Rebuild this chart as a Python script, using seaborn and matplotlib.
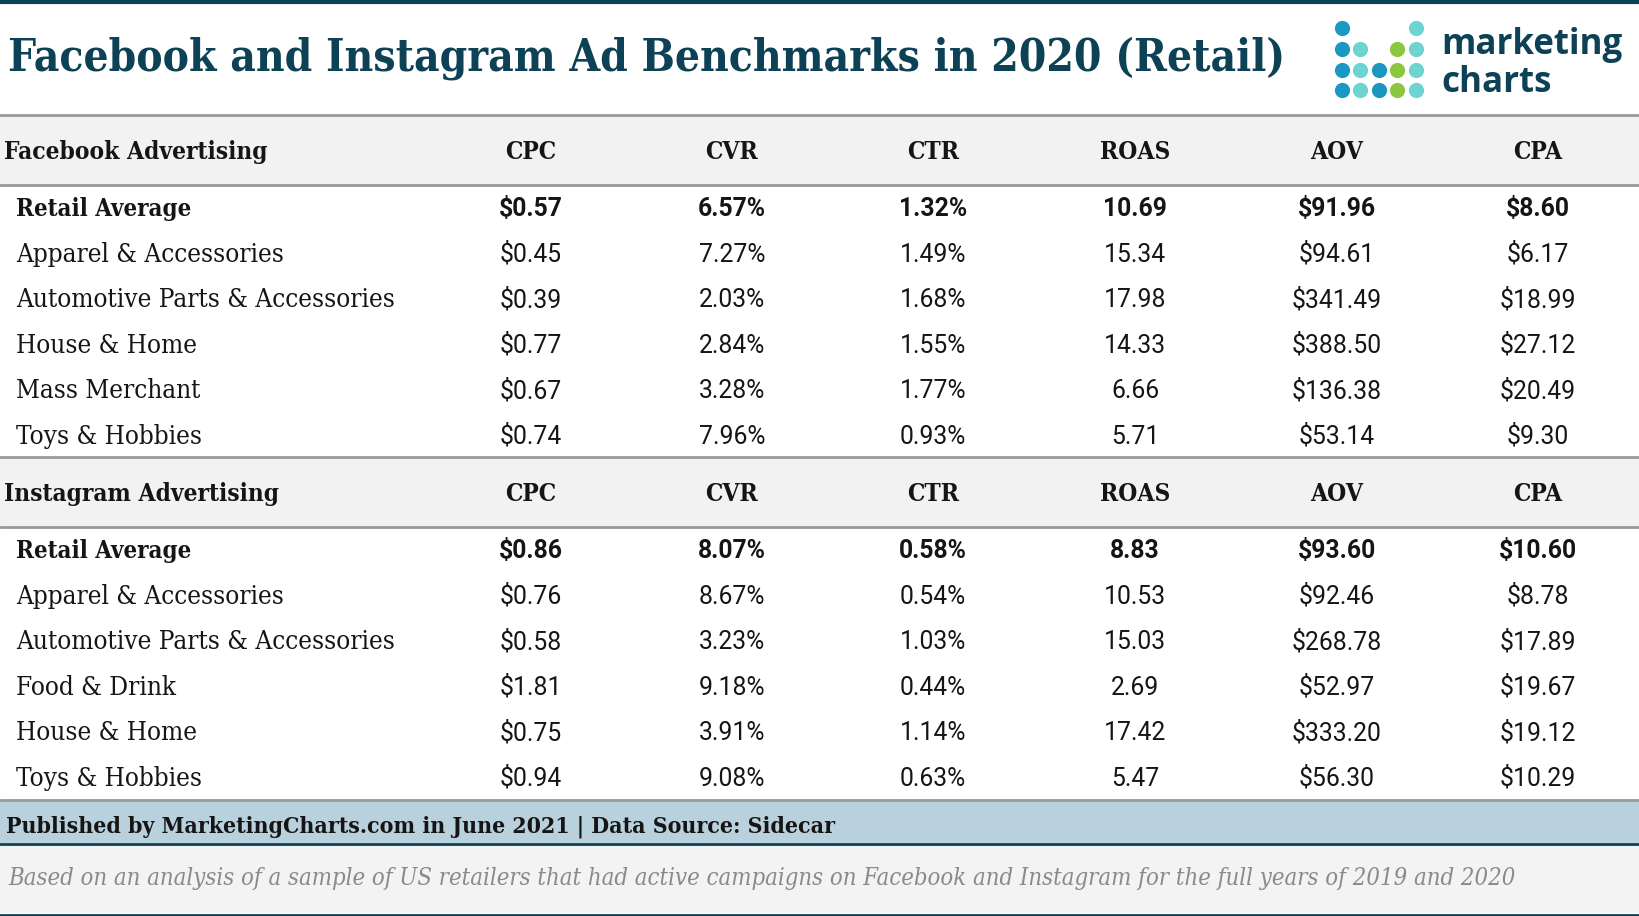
import matplotlib
matplotlib.use("Agg")
import matplotlib.pyplot as plt
from matplotlib import font_manager as fm
import seaborn as sns
import pandas as pd

# ---------------- data ----------------
columns = ["CPC", "CVR", "CTR", "ROAS", "AOV", "CPA"]
fmts = ["${:.2f}", "{:.2f}%", "{:.2f}%", "{:.2f}", "${:.2f}", "${:.2f}"]

fb_categories = ["Retail Average", "Apparel & Accessories", "Automotive Parts & Accessories",
                 "House & Home", "Mass Merchant", "Toys & Hobbies"]
fb_cpc = [0.57, 0.45, 0.39, 0.77, 0.67, 0.74]
fb_cvr = [6.57, 7.27, 2.03, 2.84, 3.28, 7.96]
fb_ctr = [1.32, 1.49, 1.68, 1.55, 1.77, 0.93]
fb_roas = [10.69, 15.34, 17.98, 14.33, 6.66, 5.71]
fb_aov = [91.96, 94.61, 341.49, 388.50, 136.38, 53.14]
fb_cpa = [8.60, 6.17, 18.99, 27.12, 20.49, 9.30]

ig_categories = ["Retail Average", "Apparel & Accessories", "Automotive Parts & Accessories",
                 "Food & Drink", "House & Home", "Toys & Hobbies"]
ig_cpc = [0.86, 0.76, 0.58, 1.81, 0.75, 0.94]
ig_cvr = [8.07, 8.67, 3.23, 9.18, 3.91, 9.08]
ig_ctr = [0.58, 0.54, 1.03, 0.44, 1.14, 0.63]
ig_roas = [8.83, 10.53, 15.03, 2.69, 17.42, 5.47]
ig_aov = [93.60, 92.46, 268.78, 52.97, 333.20, 56.30]
ig_cpa = [10.60, 8.78, 17.89, 19.67, 19.12, 10.29]

title = "Facebook and Instagram Ad Benchmarks in 2020 (Retail)"
source = "Published by MarketingCharts.com in June 2021 | Data Source: Sidecar"
note = ("Based on an analysis of a sample of US retailers that had active campaigns "
        "on Facebook and Instagram for the full years of 2019 and 2020")

fb = pd.DataFrame(dict(zip(columns, [fb_cpc, fb_cvr, fb_ctr, fb_roas, fb_aov, fb_cpa])),
                  index=fb_categories)
ig = pd.DataFrame(dict(zip(columns, [ig_cpc, ig_cvr, ig_ctr, ig_roas, ig_aov, ig_cpa])),
                  index=ig_categories)

# ---------------- style ----------------
sns.set_theme(style="white")
plt.rcParams["font.family"] = ["DejaVu Serif"]

has_cond = any(f.name == "DejaVu Serif" and "condensed" in str(f.stretch)
               for f in fm.fontManager.ttflist)
SERIF = dict(family="DejaVu Serif", fontstretch="condensed" if has_cond else "normal")
NUM = dict(family="Roboto")

W, H = 1640, 916
fig = plt.figure(figsize=(W / 100, H / 100), dpi=100)
ax = fig.add_axes([0, 0, 1, 1])
ax.set_xlim(0, W)
ax.set_ylim(H, 0)
ax.axis("off")
renderer = fig.canvas.get_renderer()

DARK = "#0d4155"
GRAY_LINE = "#9a9a9a"
BAND = "#f2f2f2"
TXT = "#151515"


def fit_size(text, target_w, cap_px, cap_ratio=0.73, **kw):
    t = ax.text(0, 0, text, fontsize=20, **kw)
    bb = t.get_window_extent(renderer)
    t.remove()
    by_w = 20 * target_w / bb.width
    by_h = cap_px / cap_ratio * 0.72
    return min(by_w, by_h)


# ---------------- layout ----------------
col_x = [531, 732, 933, 1135, 1337, 1538]
row_size = fit_size("Automotive Parts & Accessories", 389, 19, **SERIF)
rowb_size = fit_size("Retail Average", 176, 18.5, fontweight="bold", **SERIF)
num_size = fit_size("$341.49", 90, 18, cap_ratio=0.711, **NUM)
head_size = fit_size("Facebook Advertising", 264, 18.5, fontweight="bold", **SERIF)

# top rule
ax.axhline(1.5, color=DARK, lw=3)

# title
ax.text(8, 70, title, fontsize=fit_size(title, 1276, 33, fontweight="bold", **SERIF),
        fontweight="bold", color=DARK, va="baseline", ha="left", **SERIF)

# logo
dot_cols = [1342, 1360, 1379, 1397, 1416]
dot_rows = [28, 49, 70, 90]
BLUE, TEAL, GREEN = "#1b98c2", "#6dd4d2", "#8cc83f"
logo = [
    [BLUE, None, None, None, TEAL],
    [BLUE, TEAL, None, GREEN, TEAL],
    [BLUE, TEAL, BLUE, GREEN, TEAL],
    [BLUE, TEAL, BLUE, GREEN, TEAL],
]
for r, row in enumerate(logo):
    for c, colr in enumerate(row):
        if colr:
            ax.scatter(dot_cols[c], dot_rows[r], s=120, color=colr, linewidths=0, zorder=3)
logo_size = fit_size("marketing", 181, 40, cap_ratio=0.76, family="Open Sans",
                     fontweight="bold")
ax.text(1441, 54, "marketing", fontsize=logo_size, family="Open Sans", fontweight="bold",
        color=DARK, va="baseline", ha="left")
ax.text(1441, 92, "charts", fontsize=logo_size, family="Open Sans", fontweight="bold",
        color=DARK, va="baseline", ha="left")


def draw_section(df, name, top, row_h=45.6):
    ax.axhspan(top, top + 70, color=BAND, lw=0, zorder=0)
    ax.axhline(top, color=GRAY_LINE, lw=2)
    ax.axhline(top + 70, color=GRAY_LINE, lw=2)
    hy = top + 44
    ax.text(4, hy, name, fontsize=head_size, fontweight="bold", color=TXT,
            va="baseline", ha="left", **SERIF)
    for x, c in zip(col_x, df.columns):
        ax.text(x, hy, c, fontsize=head_size, fontweight="bold", color=TXT,
                va="baseline", ha="center", **SERIF)
    y0 = top + 101
    for i, (cat, vals) in enumerate(df.iterrows()):
        y = y0 + i * row_h
        w = "bold" if i == 0 else "normal"
        ax.text(16, y, cat, fontsize=rowb_size if i == 0 else row_size, fontweight=w,
                color=TXT, va="baseline", ha="left", **SERIF)
        for x, f, v in zip(col_x, fmts, vals.values):
            ax.text(x, y, f.format(v), fontsize=num_size, fontweight=w, color=TXT,
                    va="baseline", ha="center", **NUM)


draw_section(fb, "Facebook Advertising", 115)
draw_section(ig, "Instagram Advertising", 457)

# bottom of table
ax.axhline(800, color=GRAY_LINE, lw=2)
ax.axhspan(801, 843, color="#b9d0dd", lw=0, zorder=0)
ax.axhline(844, color=DARK, lw=2)
ax.axhspan(845, 913, color="#f3f3f3", lw=0, zorder=0)
ax.axhline(914.5, color=DARK, lw=2)

ax.text(6, 833, source, fontsize=fit_size(source, 826, 18.5, fontweight="bold", **SERIF),
        fontweight="bold", color=TXT, va="baseline", ha="left", **SERIF)
ax.text(8, 885, note, fontsize=fit_size(note, 1509, 19, style="italic", **SERIF),
        style="italic", color="#8a8a8a", va="baseline", ha="left", **SERIF)

fig.savefig("out.png", dpi=100)
